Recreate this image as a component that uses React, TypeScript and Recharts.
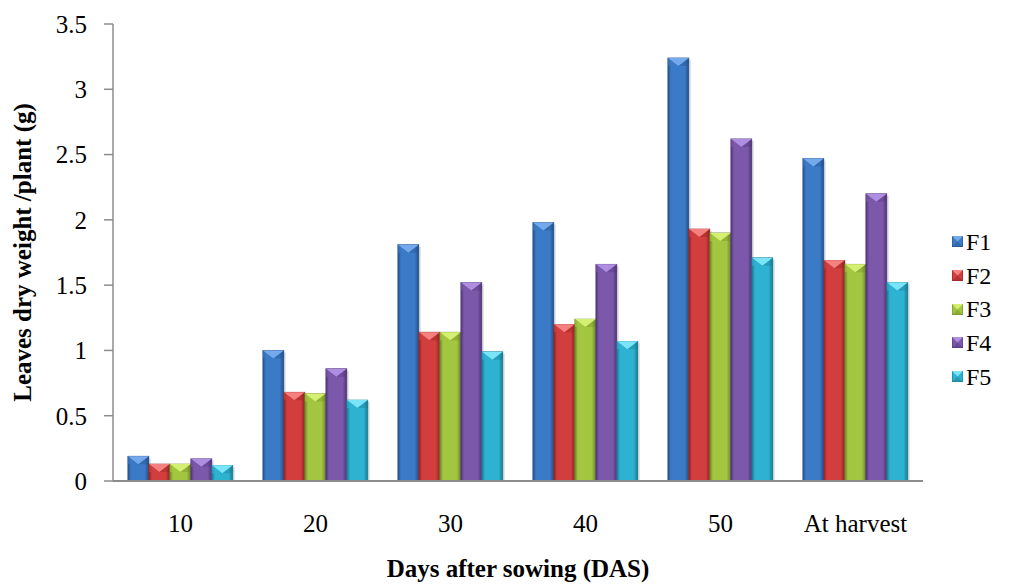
import { BarChart, Bar, XAxis, YAxis, Legend } from 'recharts'

const categories = ['10', '20', '30', '40', '50', 'At harvest']
const f1 = [0.19, 1.0, 1.81, 1.98, 3.24, 2.47]
const f2 = [0.13, 0.68, 1.14, 1.2, 1.93, 1.69]
const f3 = [0.13, 0.67, 1.14, 1.24, 1.9, 1.66]
const f4 = [0.17, 0.86, 1.52, 1.66, 2.62, 2.2]
const f5 = [0.12, 0.62, 0.99, 1.07, 1.71, 1.52]
const yTicks = [0, 0.5, 1, 1.5, 2, 2.5, 3, 3.5]

const data = categories.map((c, i) => ({
  day: c,
  F1: f1[i],
  F2: f2[i],
  F3: f3[i],
  F4: f4[i],
  F5: f5[i],
}))

const series = [
  { key: 'F1', base: '#3b7ac7', dark: '#23508a', light: '#74aaec' },
  { key: 'F2', base: '#d23d3d', dark: '#8f2323', light: '#f48080' },
  { key: 'F3', base: '#a3c641', dark: '#6c8825', light: '#d4f072' },
  { key: 'F4', base: '#7b58aa', dark: '#4f3478', light: '#ad8ee0' },
  { key: 'F5', base: '#2db2d1', dark: '#1a7990', light: '#7ae4f8' },
]

const FONT = '"Liberation Serif", "Times New Roman", serif'

function BevelBar(props: any) {
  const { x, y, width, height, s } = props
  if (!height || height <= 0) return null
  const t = Math.min(8, height)
  return (
    <g>
      <rect x={x + 2} y={y + 2} width={width} height={height - 2} fill="#000" opacity={0.12} />
      <rect x={x} y={y} width={width} height={height} fill={`url(#g-${s.key})`} stroke={s.dark} strokeWidth={0.6} />
      <polygon
        points={`${x},${y} ${x + width},${y} ${x + width / 2},${y + t}`}
        fill={s.light}
      />
      <polygon points={`${x},${y} ${x + width / 2},${y + t} ${x},${y + t}`} fill={s.base} opacity={0.6} />
      <polygon points={`${x + width},${y} ${x + width / 2},${y + t} ${x + width},${y + t}`} fill={s.dark} opacity={0.35} />
    </g>
  )
}

function LegendBox() {
  return (
    <div style={{ width: 60 }}>
      {series.map((s) => (
        <div key={s.key} style={{ display: 'flex', alignItems: 'center', height: 33.7 }}>
          <svg width={11} height={11} style={{ marginRight: 3 }}>
            <rect x={0} y={0} width={11} height={11} fill={s.base} stroke={s.dark} strokeWidth={1} />
            <polygon points="0,0 11,0 5.5,5.5" fill={s.light} />
            <polygon points="0,11 11,11 5.5,5.5" fill={s.dark} opacity={0.4} />
          </svg>
          <span style={{ fontFamily: FONT, fontSize: 24, color: '#000', lineHeight: 1 }}>{s.key}</span>
        </div>
      ))}
    </div>
  )
}

export default function App() {
  return (
    <div style={{ position: 'absolute', left: 0, top: 0, width: 1013, height: 584, background: '#fff' }}>
      <BarChart
        width={1013}
        height={584}
        data={data}
        margin={{ top: 24, right: 30, bottom: 0, left: 0 }}
        barCategoryGap="11%"
        barGap={0}
      >
        <defs>
          {series.map((s) => (
            <linearGradient key={s.key} id={`g-${s.key}`} x1="0" y1="0" x2="1" y2="0">
              <stop offset="0%" stopColor={s.dark} />
              <stop offset="15%" stopColor={s.base} />
              <stop offset="45%" stopColor={s.base} />
              <stop offset="80%" stopColor={s.base} />
              <stop offset="100%" stopColor={s.dark} />
            </linearGradient>
          ))}
        </defs>
        <XAxis
          dataKey="day"
          axisLine={{ stroke: '#8c8c8c', strokeWidth: 2 }}
          tickLine={false}
          tickMargin={27}
          tick={{ fontSize: 25, fill: '#000', fontFamily: FONT }}
          height={103}
          label={{
            value: 'Days after sowing (DAS)',
            position: 'insideBottom',
            offset: 7,
            style: { fontSize: 25, fontWeight: 'bold', fill: '#000', fontFamily: FONT },
          }}
        />
        <YAxis
          domain={[0, 3.5]}
          ticks={yTicks}
          interval={0}
          width={113}
          axisLine={{ stroke: '#8c8c8c', strokeWidth: 1.5 }}
          tickLine={{ stroke: '#8c8c8c', strokeWidth: 1.5 }}
          tickSize={9}
          tickMargin={17}
          tick={{ fontSize: 25, fill: '#000', fontFamily: FONT }}
          label={{
            value: 'Leaves dry weight /plant (g)',
            angle: -90,
            position: 'insideLeft',
            offset: 22,
            style: { textAnchor: 'middle', fontSize: 25, fontWeight: 'bold', fill: '#000', fontFamily: FONT },
          }}
        />
        <Legend
          layout="vertical"
          align="right"
          verticalAlign="middle"
          content={<LegendBox />}
          wrapperStyle={{ left: 952, top: 225, width: 60 }}
        />
        {series.map((s) => (
          <Bar
            key={s.key}
            dataKey={s.key}
            fill={s.base}
            isAnimationActive={false}
            shape={(p: any) => <BevelBar {...p} s={s} />}
          />
        ))}
      </BarChart>
    </div>
  )
}
